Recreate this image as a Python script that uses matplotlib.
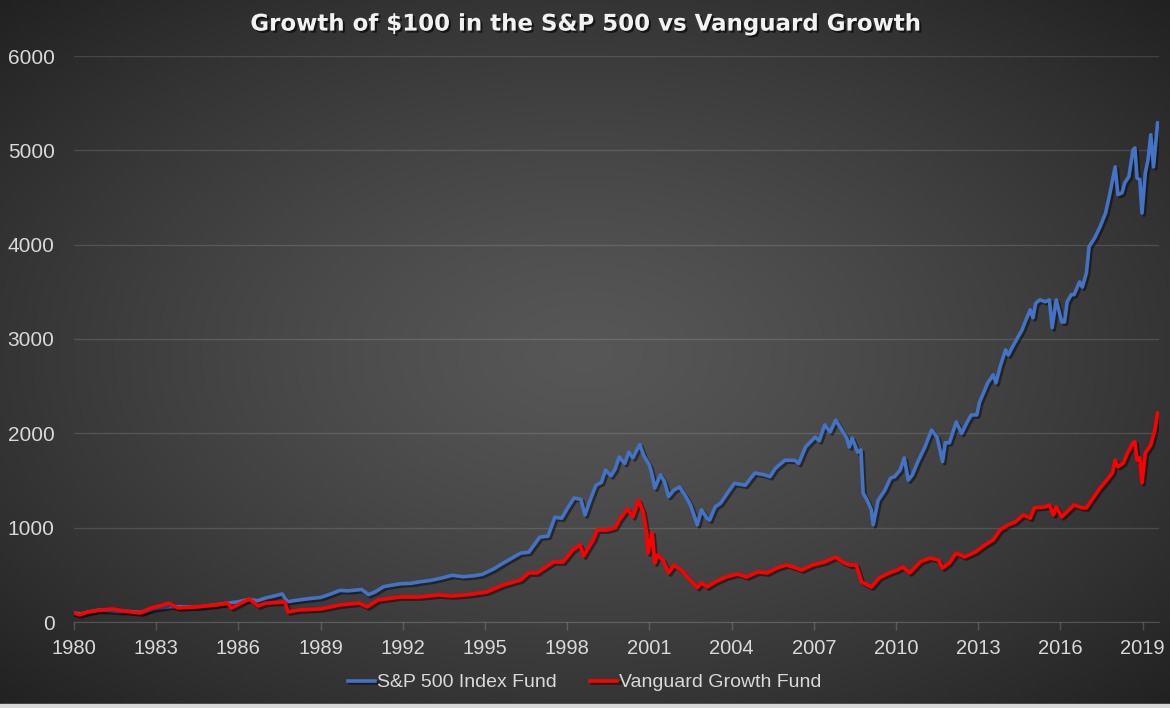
import matplotlib.pyplot as plt
import matplotlib.patheffects as pe
import numpy as np

plt.rcParams['font.family'] = ['Liberation Sans', 'DejaVu Sans']

# S&P 500 Index Fund, growth of $100 (decimal year, value)
sp_years = [1980.0, 1980.25, 1980.5, 1980.9, 1981.3, 1981.7, 1982.0, 1982.5, 1982.9, 1983.5,
            1984.0, 1984.5, 1985.0, 1985.5, 1986.0, 1986.4, 1986.7, 1987.0, 1987.3, 1987.6,
            1987.8, 1988.0, 1988.5, 1989.0, 1989.4, 1989.7, 1990.0, 1990.5, 1990.75, 1991.0,
            1991.3, 1991.9, 1992.3, 1992.6, 1993.0, 1993.4, 1993.8, 1994.2, 1994.6, 1994.9,
            1995.3, 1995.7, 1996.0, 1996.3, 1996.6, 1997.0, 1997.3, 1997.55, 1997.8, 1998.0,
            1998.25, 1998.5, 1998.65, 1998.85, 1999.05, 1999.25, 1999.4, 1999.6, 1999.75, 1999.9,
            2000.1, 2000.25, 2000.4, 2000.5, 2000.65, 2000.8, 2001.0, 2001.1, 2001.2, 2001.4,
            2001.55, 2001.7, 2001.9, 2002.1, 2002.3, 2002.5, 2002.6, 2002.75, 2002.9, 2003.1,
            2003.2, 2003.4, 2003.6, 2003.8, 2004.1, 2004.3, 2004.5, 2004.85, 2005.2, 2005.4,
            2005.6, 2005.95, 2006.3, 2006.45, 2006.7, 2007.05, 2007.2, 2007.4, 2007.6, 2007.8,
            2008.1, 2008.2, 2008.3, 2008.4, 2008.6, 2008.72, 2008.8, 2008.95, 2009.1, 2009.17,
            2009.35, 2009.6, 2009.8, 2009.95, 2010.15, 2010.3, 2010.45, 2010.6, 2010.8, 2011.05,
            2011.3, 2011.5, 2011.7, 2011.8, 2011.95, 2012.2, 2012.4, 2012.6, 2012.75, 2012.95,
            2013.05, 2013.35, 2013.55, 2013.65, 2013.8, 2014.0, 2014.1, 2014.25, 2014.45, 2014.6,
            2014.7, 2014.9, 2015.0, 2015.1, 2015.25, 2015.45, 2015.6, 2015.7, 2015.85, 2016.05,
            2016.15, 2016.25, 2016.4, 2016.5, 2016.7, 2016.8, 2016.95, 2017.05, 2017.25, 2017.45,
            2017.65, 2017.8, 2018.0, 2018.1, 2018.25, 2018.35, 2018.5, 2018.65, 2018.72, 2018.8,
            2018.9, 2018.98, 2019.1, 2019.2, 2019.3, 2019.4, 2019.55]
sp_values = [95, 85, 105, 125, 120, 110, 112, 100, 140, 165,
             160, 158, 175, 195, 215, 240, 225, 255, 275, 297,
             215, 225, 245, 260, 300, 335, 330, 345, 290, 320,
             375, 405, 410, 425, 440, 465, 495, 480, 490, 505,
             560, 630, 680, 730, 740, 900, 910, 1110, 1100, 1200,
             1315, 1300, 1135, 1300, 1450, 1480, 1610, 1550, 1620, 1750,
             1680, 1800, 1740, 1800, 1880, 1760, 1665, 1560, 1420, 1560,
             1490, 1330, 1400, 1430, 1345, 1240, 1155, 1030, 1190, 1100,
             1080, 1220, 1260, 1345, 1470, 1460, 1450, 1580, 1560, 1540,
             1630, 1715, 1715, 1680, 1855, 1960, 1920, 2090, 2015, 2140,
             2000, 1950, 1855, 1950, 1800, 1825, 1365, 1290, 1190, 1030,
             1290, 1400, 1525, 1540, 1610, 1740, 1505, 1560, 1700, 1850,
             2035, 1960, 1700, 1900, 1900, 2120, 2000, 2120, 2195, 2195,
             2330, 2535, 2620, 2535, 2705, 2885, 2830, 2915, 3020, 3095,
             3170, 3310, 3225, 3380, 3415, 3395, 3415, 3120, 3415, 3180,
             3180, 3395, 3470, 3470, 3605, 3550, 3700, 3980, 4070, 4190,
             4335, 4530, 4825, 4530, 4550, 4655, 4720, 5005, 5025, 4705,
             4690, 4335, 4760, 4900, 5165, 4825, 5290]

# Vanguard Growth Fund, growth of $100 (decimal year, value)
vg_years = [1980.0, 1980.2, 1980.5, 1980.95, 1981.4, 1981.8, 1982.4, 1982.8, 1983.2, 1983.45,
            1983.8, 1984.4, 1985.2, 1985.6, 1985.75, 1986.0, 1986.4, 1986.72, 1987.0, 1987.7,
            1987.81, 1988.2, 1989.0, 1989.7, 1990.4, 1990.7, 1991.1, 1991.9, 1992.6, 1993.3,
            1993.8, 1994.4, 1995.07, 1995.66, 1996.3, 1996.6, 1996.9, 1997.5, 1997.85, 1998.2,
            1998.47, 1998.6, 1998.95, 1999.1, 1999.45, 1999.75, 1999.9, 2000.2, 2000.4, 2000.6,
            2000.77, 2000.9, 2000.95, 2001.1, 2001.2, 2001.3, 2001.5, 2001.7, 2001.9, 2002.2,
            2002.5, 2002.75, 2002.9, 2003.1, 2003.4, 2003.8, 2004.2, 2004.55, 2004.95, 2005.3,
            2005.65, 2006.0, 2006.25, 2006.55, 2006.95, 2007.4, 2007.8, 2008.05, 2008.3, 2008.55,
            2008.75, 2009.1, 2009.4, 2009.8, 2010.05, 2010.25, 2010.5, 2010.9, 2011.25, 2011.55,
            2011.7, 2011.95, 2012.2, 2012.5, 2012.9, 2013.25, 2013.55, 2013.8, 2014.1, 2014.35,
            2014.65, 2014.9, 2015.05, 2015.45, 2015.6, 2015.75, 2015.85, 2016.05, 2016.25, 2016.5,
            2016.8, 2016.95, 2017.2, 2017.45, 2017.7, 2017.9, 2018.0, 2018.1, 2018.3, 2018.45,
            2018.65, 2018.72, 2018.8, 2018.9, 2018.98, 2019.1, 2019.3, 2019.45, 2019.55]
vg_values = [95, 75, 105, 127, 138, 117, 95, 148, 175, 200,
             148, 160, 180, 200, 148, 185, 244, 170, 200, 212,
             106, 127, 138, 180, 200, 160, 233, 265, 265, 286,
             276, 290, 318, 392, 445, 520, 520, 636, 636, 763,
             817, 700, 870, 975, 975, 1000, 1080, 1200, 1115, 1290,
             1170, 945, 730, 945, 625, 710, 657, 520, 604, 540,
             440, 365, 415, 371, 424, 477, 509, 477, 530, 520,
             572, 604, 583, 551, 604, 636, 689, 636, 604, 604,
             424, 371, 470, 525, 551, 583, 520, 640, 678, 657,
             572, 625, 730, 689, 742, 817, 870, 975, 1030, 1060,
             1135, 1100, 1210, 1220, 1240, 1135, 1220, 1115, 1170, 1240,
             1210, 1210, 1315, 1420, 1505, 1580, 1715, 1645, 1685, 1790,
             1900, 1910, 1715, 1740, 1475, 1790, 1875, 2035, 2215]

year_ticks = list(range(1980, 2020, 3))
value_ticks = [0, 1000, 2000, 3000, 4000, 5000, 6000]

fig = plt.figure(figsize=(11.7, 7.08), dpi=100)

# radial grey background
bg = fig.add_axes([0, 0, 1, 1], zorder=-10)
gx, gy = np.meshgrid(np.linspace(-1, 1, 600), np.linspace(-1, 1, 360))
d = np.clip(np.sqrt(gx**2 + gy**2) / np.sqrt(2), 0, 1)
shade = 0.34 - 0.21 * d**1.3
bg.imshow(np.dstack([shade] * 3), extent=[0, 1, 0, 1], aspect='auto')
bg.add_patch(plt.Rectangle((0, 0), 1, 4 / 708, color='#d8d8d8'))
bg.set_xlim(0, 1)
bg.set_ylim(0, 1)
bg.axis('off')

ax = fig.add_axes([74 / 1170, 86 / 708, 1085 / 1170, 566 / 708])
ax.patch.set_alpha(0)

shadow = [pe.SimpleLineShadow(offset=(1.5, -1.5), shadow_color='black', alpha=0.45), pe.Normal()]
ax.plot(sp_years, sp_values, color='#4472C4', lw=2.6, label='S&P 500 Index Fund',
        path_effects=shadow, zorder=3)
ax.plot(vg_years, vg_values, color='#FF0000', lw=2.6, label='Vanguard Growth Fund',
        path_effects=shadow, zorder=4)

ax.set_xlim(1980, 2019.6)
ax.set_ylim(0, 6000)
ax.set_xticks(year_ticks)
ax.set_yticks(value_ticks)
ax.grid(axis='y', color='#ffffff', alpha=0.13, lw=1)
ax.set_axisbelow(True)
for side in ['top', 'right', 'left']:
    ax.spines[side].set_visible(False)
ax.spines['bottom'].set_color('#ffffff')
ax.spines['bottom'].set_alpha(0.18)
ax.tick_params(axis='x', colors='#d9d9d9', labelsize=14.5, length=6, width=1, pad=6,
               color=(1, 1, 1, 0.18))
ax.tick_params(axis='y', colors='#d9d9d9', labelsize=15, length=0, pad=14)

fig.text(0.5, 0.966, 'Growth of $100 in the S&P 500 vs Vanguard Growth', ha='center', va='center',
         color='#f2f2f2', fontsize=16.5, fontweight='bold', family=['DejaVu Sans'],
         path_effects=[pe.withSimplePatchShadow(offset=(1.5, -1.5), shadow_rgbFace='black', alpha=0.6)])

leg = fig.legend(loc='center', bbox_to_anchor=(0.5, 0.036), ncol=2, frameon=False,
                 fontsize=14, handlelength=1.4, handletextpad=0.1, columnspacing=1.7)
for t in leg.get_texts():
    t.set_color('#d9d9d9')

fig.savefig('out.png', dpi=100)
